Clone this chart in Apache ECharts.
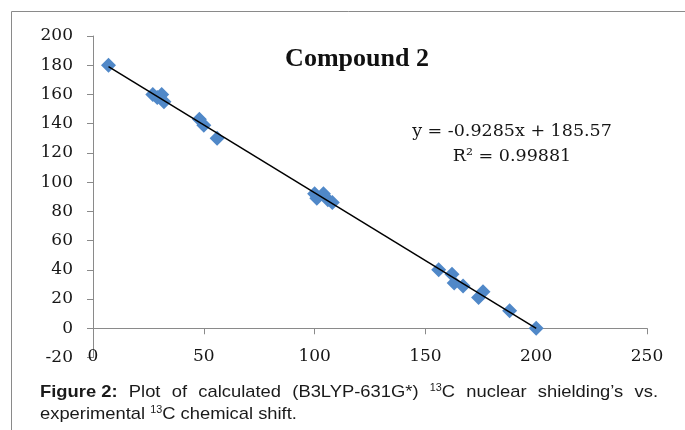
<!DOCTYPE html>
<html>
<head>
<meta charset="utf-8">
<script src="https://cdn.jsdelivr.net/npm/echarts@6/dist/echarts.min.js"></script>
<style>
  html, body { margin: 0; padding: 0; background: #fff; }
  #chart { width: 685px; height: 430px; }
</style>
</head>
<body>
<div id="chart"></div>
<script>
// experimental shift (x) vs calculated shielding (y)
var expShift = [7, 27, 29, 31, 32, 48, 50, 56, 100, 101, 104, 106, 108, 156, 162, 163, 167, 176, 174, 188, 200]
var calcShield = [180, 160, 158, 160, 155, 143, 139, 130, 92, 89, 92, 88, 86, 40, 37, 31, 29, 25, 21, 12, 0]
var fitSlope = -0.9285
var fitIntercept = 185.57
var xTicks = [0, 50, 100, 150, 200, 250]
var yTicks = [-20, 0, 20, 40, 60, 80, 100, 120, 140, 160, 180, 200]

var points = expShift.map(function(x, i) { return [x, calcShield[i]] })
var xMin = Math.min.apply(null, expShift)
var xMax = Math.max.apply(null, expShift)
var trend = [
  [xMin, fitSlope * xMin + fitIntercept],
  [xMax, fitSlope * xMax + fitIntercept]
]

var axisGray = '#8a8a8a'
var labelFont = 'DejaVu Serif'
var labelColor = '#161616'
var capFont = '"Liberation Sans", Arial, sans-serif'

// caption: first line justified between these edges, text slightly widened
var capLeft = 40
var capRight = 658
var capScale = 1.08
var measure = document.createElement('canvas').getContext('2d')
function textW(str, font) {
  measure.font = font
  return measure.measureText(str).width * capScale
}
var normalF = '17px ' + capFont
var boldF = 'bold 17px ' + capFont
var supF = '10px ' + capFont
var capRich = {
  n: { fontFamily: capFont, fontSize: 17, fill: '#1a1a1a', lineHeight: 18, verticalAlign: 'bottom' },
  b: { fontFamily: capFont, fontSize: 17, fontWeight: 'bold', fill: '#1a1a1a', lineHeight: 18, verticalAlign: 'bottom' },
  s: { fontFamily: capFont, fontSize: 10, fill: '#1a1a1a', lineHeight: 18, verticalAlign: 'top' }
}
var line1 = [
  { t: '{b|Figure 2:}', w: textW('Figure 2:', boldF) },
  { t: '{n|Plot}', w: textW('Plot', normalF) },
  { t: '{n|of}', w: textW('of', normalF) },
  { t: '{n|calculated}', w: textW('calculated', normalF) },
  { t: '{n|(B3LYP-631G*)}', w: textW('(B3LYP-631G*)', normalF) },
  { t: '{s|13}{n|C}', w: textW('13', supF) + textW('C', normalF) },
  { t: '{n|nuclear}', w: textW('nuclear', normalF) },
  { t: '{n|shielding’s}', w: textW('shielding’s', normalF) },
  { t: '{n|vs.}', w: textW('vs.', normalF) }
]
var sumW = line1.reduce(function(a, o) { return a + o.w }, 0)
var gap = (capRight - capLeft - sumW) / (line1.length - 1)
var captionEls = []
var cx = capLeft
line1.forEach(function(o) {
  captionEls.push({
    type: 'text', x: cx, y: 392, scaleX: capScale,
    style: { text: o.t, x: 0, y: 0, verticalAlign: 'middle', rich: capRich }
  })
  cx += o.w + gap
})
captionEls.push({
  type: 'text', x: capLeft, y: 414, scaleX: capScale,
  style: {
    text: '{n|experimental }{s|13}{n|C chemical shift.}',
    x: 0, y: 0, verticalAlign: 'middle', rich: capRich
  }
})

var myChart = echarts.init(document.getElementById('chart'))
var option = {
  animation: false,
  backgroundColor: '#fff',
  grid: { left: 93, right: 38, top: 36, bottom: 72.5 },
  xAxis: {
    type: 'value',
    min: xTicks[0],
    max: xTicks[xTicks.length - 1],
    interval: 50,
    splitLine: { show: false },
    axisLine: { onZero: true, lineStyle: { color: axisGray, width: 1 } },
    axisTick: { length: 6, lineStyle: { color: axisGray } },
    axisLabel: { margin: -9, color: labelColor, fontFamily: labelFont, fontSize: 17 }
  },
  yAxis: {
    type: 'value',
    min: yTicks[0],
    max: yTicks[yTicks.length - 1],
    interval: 20,
    splitLine: { show: false },
    axisLine: { show: true, onZero: false, lineStyle: { color: axisGray, width: 1 } },
    axisTick: { show: true, length: 6, lineStyle: { color: axisGray } },
    axisLabel: { margin: 20, color: labelColor, fontFamily: labelFont, fontSize: 17 }
  },
  series: [
    {
      name: 'Compound 2',
      type: 'scatter',
      symbol: 'diamond',
      symbolSize: 15,
      itemStyle: { color: '#5088c8', opacity: 1 },
      data: points
    },
    {
      name: 'Linear fit',
      type: 'line',
      symbol: 'none',
      lineStyle: { color: '#000', width: 1.5 },
      z: 5,
      data: trend
    }
  ],
  graphic: [
    {
      type: 'rect',
      shape: { x: 11.5, y: 11.5, width: 700, height: 450 },
      style: { fill: 'none', stroke: axisGray, lineWidth: 1 },
      silent: true
    },
    {
      type: 'text',
      style: {
        text: 'Compound 2', x: 357, y: 59, align: 'center', verticalAlign: 'middle',
        fontFamily: '"Liberation Serif", "Times New Roman", serif', fontSize: 26, fontWeight: 'bold', fill: '#111'
      }
    },
    {
      type: 'text',
      style: {
        text: 'y = -0.9285x + 185.57', x: 512, y: 131, align: 'center', verticalAlign: 'middle',
        fontFamily: labelFont, fontSize: 17.5, fill: labelColor
      }
    },
    {
      type: 'text',
      style: {
        text: 'R² = 0.99881', x: 512, y: 156, align: 'center', verticalAlign: 'middle',
        fontFamily: labelFont, fontSize: 17.5, fill: labelColor
      }
    }
  ].concat(captionEls)
}
myChart.setOption(option)
</script>
</body>
</html>
